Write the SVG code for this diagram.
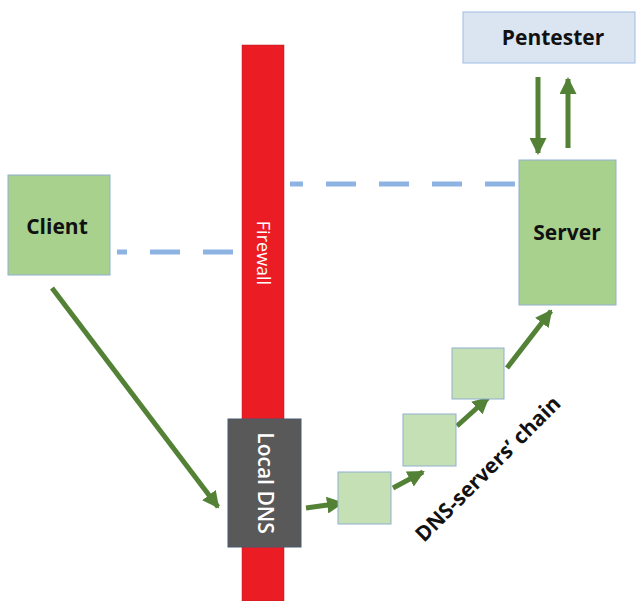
<svg xmlns="http://www.w3.org/2000/svg" width="637" height="601" viewBox="0 0 637 601">
<defs>
<style>
.box{fill:#a9d18e;stroke:#8fb0cf;stroke-width:1}
.chain{fill:#c5e0b4;stroke:#8fb0cf;stroke-width:1}
.lbl{font-family:"Open Sans","DejaVu Sans",sans-serif;font-weight:bold;font-size:21px;fill:#111;text-anchor:middle}
.wlbl{font-family:"Open Sans","DejaVu Sans",sans-serif;fill:#fff;text-anchor:middle}
.arr{stroke:#538135;stroke-width:5;fill:none;marker-end:url(#ah)}
.dash{stroke:#8db3e2;stroke-width:5;stroke-dasharray:30 23;fill:none}
</style>
<marker id="ah" markerUnits="userSpaceOnUse" markerWidth="17" markerHeight="17" viewBox="0 0 17 17" refX="15" refY="8.5" orient="auto">
<path d="M0,0 L17,8.5 L0,17 z" fill="#538135"/>
</marker>
</defs>
<rect width="637" height="601" fill="#fff"/>
<g id="firewall">
<rect x="242" y="45" width="42" height="556" fill="#ec1c24" stroke="#b01a20" stroke-width="0.5"/>
<text class="wlbl" font-size="18" transform="translate(263,253) rotate(90)" dy="6">Firewall</text>
</g>
<g id="connectors">
<path class="dash" d="M233,252 L117,252"/>
<path class="dash" d="M515,184 L290,184"/>
<path class="arr" d="M52,288 L218,507"/>
<path class="arr" d="M538,77 L538,153"/>
<path class="arr" d="M568,148 L568,79"/>
<path class="arr" d="M306,508 L342,503"/>
<path class="arr" d="M393,488 L423,472"/>
<path class="arr" d="M457,426 L488,398"/>
<path class="arr" d="M507,368 L551,311"/>
</g>
<g id="pentester">
<rect x="463" y="12" width="172" height="51" fill="#dbe5f1" stroke="#9dbbe0" stroke-width="1"/>
<text class="lbl" x="553" y="45">Pentester</text>
</g>
<g id="server">
<rect class="box" x="519" y="160" width="97" height="145"/>
<text class="lbl" x="567" y="240">Server</text>
</g>
<g id="client">
<rect class="box" x="8" y="175" width="102" height="100"/>
<text class="lbl" x="57" y="234">Client</text>
</g>
<g id="localdns">
<rect x="228" y="419" width="73" height="128" fill="#595959" stroke="#4a5a70" stroke-width="1"/>
<text class="wlbl" font-size="21" font-weight="600" transform="translate(265,483) rotate(90)" dy="7">Local DNS</text>
</g>
<g id="dns1"><rect class="chain" x="338" y="472" width="53" height="52"/></g>
<g id="dns2"><rect class="chain" x="403" y="414" width="53" height="52"/></g>
<g id="dns3"><rect class="chain" x="452" y="348" width="52" height="51"/></g>
<text class="lbl" font-size="22" transform="translate(493,474) rotate(-45)">DNS-servers’ chain</text>
</svg>
